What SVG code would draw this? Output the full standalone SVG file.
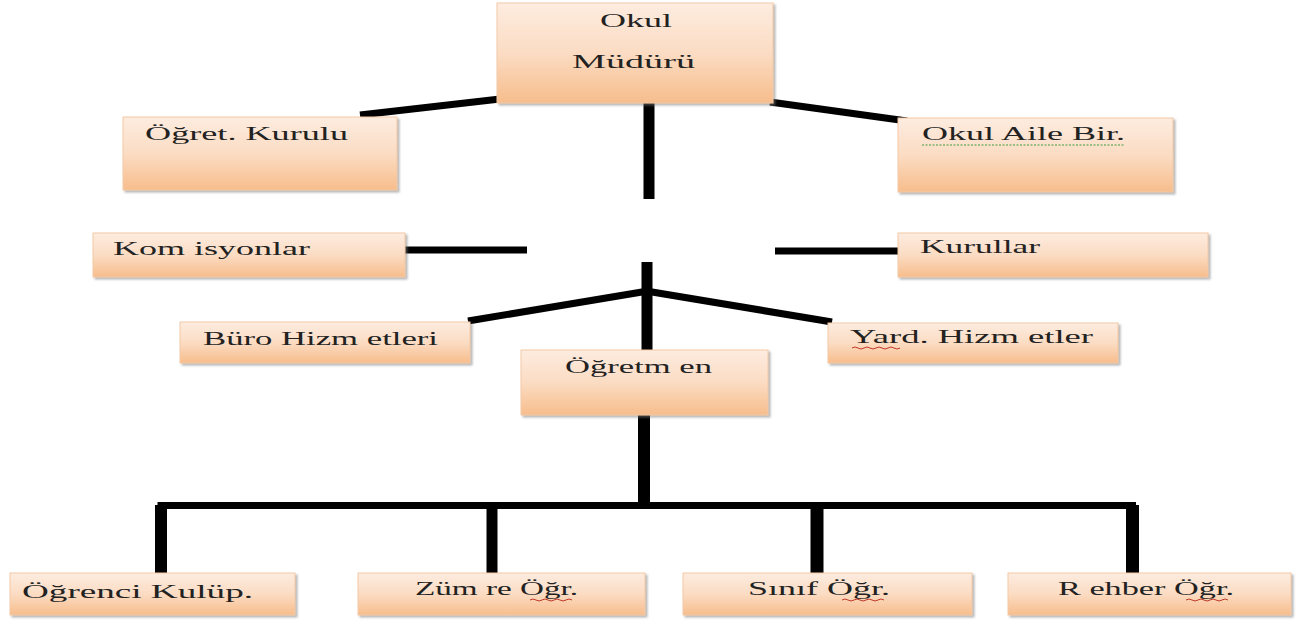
<svg xmlns="http://www.w3.org/2000/svg" width="1296" height="622" viewBox="0 0 1296 622">
<defs>
<linearGradient id="g" x1="0" y1="0" x2="0" y2="1">
<stop offset="0" stop-color="#fdece0"/>
<stop offset="0.5" stop-color="#fbdcc3"/>
<stop offset="1" stop-color="#f7bd8c"/>
</linearGradient>
<filter id="sh" x="-5%" y="-10%" width="115%" height="130%">
<feDropShadow dx="2" dy="2" stdDeviation="1.2" flood-color="#7a7a7a" flood-opacity="0.55"/>
</filter>
</defs>
<style>
.box{fill:url(#g);stroke:#f3c9a6;stroke-width:1;filter:url(#sh)}
.t{font-family:"Liberation Serif","DejaVu Serif",serif;font-size:19px;fill:#222}
.c{stroke:#000;fill:none;stroke-linecap:butt}
.w{stroke:#c0392b;stroke-width:1;fill:none}
.gw{stroke:#3a9a3a;stroke-width:1;fill:none;stroke-dasharray:2 1.5}
</style>
<rect width="1296" height="622" fill="#ffffff"/>
<g id="connectors">
<line class="c" x1="360" y1="115" x2="500" y2="99" stroke-width="7"/>
<line class="c" x1="770" y1="102" x2="907" y2="121" stroke-width="7"/>
<line class="c" x1="649" y1="103" x2="649" y2="199" stroke-width="11"/>
<line class="c" x1="405" y1="250" x2="527" y2="250" stroke-width="7"/>
<line class="c" x1="775" y1="251" x2="900" y2="251" stroke-width="7"/>
<line class="c" x1="647" y1="262" x2="647" y2="352" stroke-width="11"/>
<line class="c" x1="468" y1="321" x2="648" y2="291" stroke-width="7"/>
<line class="c" x1="646" y1="291" x2="832" y2="322" stroke-width="7"/>
<line class="c" x1="644" y1="414" x2="644" y2="506" stroke-width="12"/>
<polyline class="c" points="161,575 161,505.5 1132.5,505.5 1132.5,575" stroke-width="7"/>
<line class="c" x1="161" y1="505" x2="161" y2="575" stroke-width="12"/>
<line class="c" x1="492" y1="505" x2="492" y2="575" stroke-width="11"/>
<line class="c" x1="817" y1="505" x2="817" y2="575" stroke-width="13"/>
<line class="c" x1="1132.5" y1="505" x2="1132.5" y2="575" stroke-width="13"/>
</g>
<g id="mudur">
<rect class="box" x="497" y="3" width="276" height="100"/>
<text class="t" x="600" y="27" textLength="72" lengthAdjust="spacingAndGlyphs">Okul</text>
<text class="t" x="572" y="68" textLength="123" lengthAdjust="spacingAndGlyphs">Müdürü</text>
</g>
<g id="ogret-kurulu">
<rect class="box" x="123" y="117" width="274" height="73"/>
<text class="t" x="145" y="140" textLength="203" lengthAdjust="spacingAndGlyphs">Öğret. Kurulu</text>
</g>
<g id="okul-aile">
<rect class="box" x="898" y="118" width="275" height="74"/>
<text class="t" x="922" y="140" textLength="203" lengthAdjust="spacingAndGlyphs">Okul Aile Bir.</text>
<line class="gw" x1="922" y1="145" x2="1125" y2="145"/>
</g>
<g id="komisyonlar">
<rect class="box" x="93" y="233" width="312" height="44"/>
<text class="t" x="113" y="255" textLength="197" lengthAdjust="spacingAndGlyphs">Kom isyonlar</text>
</g>
<g id="kurullar">
<rect class="box" x="898" y="233" width="310" height="44"/>
<text class="t" x="920" y="253" textLength="120" lengthAdjust="spacingAndGlyphs">Kurullar</text>
</g>
<g id="buro">
<rect class="box" x="180" y="322" width="290" height="41"/>
<text class="t" x="203" y="345" textLength="235" lengthAdjust="spacingAndGlyphs">Büro Hizm etleri</text>
</g>
<g id="yard">
<rect class="box" x="828" y="323" width="290" height="40"/>
<text class="t" x="850" y="343" textLength="243" lengthAdjust="spacingAndGlyphs">Yard. Hizm etler</text>
<path class="w" d="M852 348 q3 -2 6 0 t6 0 t6 0 t6 0 t6 0 t6 0 t6 0 t6 0"/>
</g>
<g id="ogretmen">
<rect class="box" x="521" y="350" width="247" height="65"/>
<text class="t" x="565" y="373" textLength="147" lengthAdjust="spacingAndGlyphs">Öğretm en</text>
</g>
<g id="ogrenci">
<rect class="box" x="10" y="573" width="285" height="42"/>
<text class="t" x="22" y="598" textLength="231" lengthAdjust="spacingAndGlyphs">Öğrenci Kulüp.</text>
</g>
<g id="zumre">
<rect class="box" x="358" y="573" width="287" height="42"/>
<text class="t" x="415" y="595" textLength="163" lengthAdjust="spacingAndGlyphs">Züm re Öğr.</text>
<path class="w" d="M530 600 q3 -2 6 0 t6 0 t6 0 t6 0 t6 0 t6 0 t6 0"/>
</g>
<g id="sinif">
<rect class="box" x="683" y="573" width="289" height="42"/>
<text class="t" x="748" y="595" textLength="142" lengthAdjust="spacingAndGlyphs">Sınıf Öğr.</text>
<path class="w" d="M842 600 q3 -2 6 0 t6 0 t6 0 t6 0 t6 0 t6 0 t6 0"/>
</g>
<g id="rehber">
<rect class="box" x="1008" y="573" width="283" height="42"/>
<text class="t" x="1058" y="595" textLength="176" lengthAdjust="spacingAndGlyphs">R ehber Öğr.</text>
<path class="w" d="M1186 600 q3 -2 6 0 t6 0 t6 0 t6 0 t6 0 t6 0 t6 0"/>
</g>
</svg>
